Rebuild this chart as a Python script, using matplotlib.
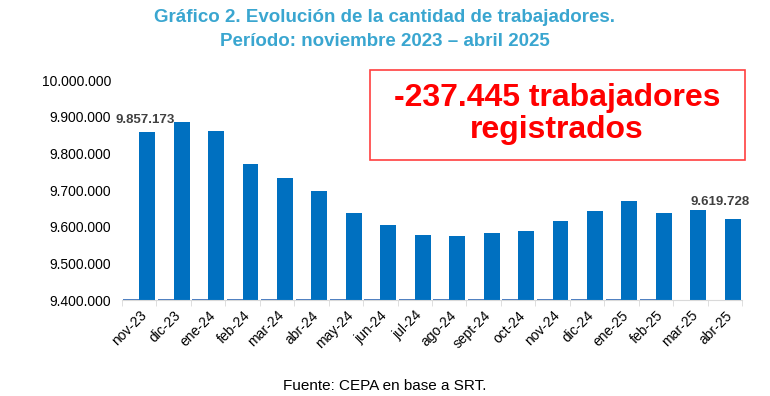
import matplotlib.pyplot as plt
from matplotlib.patches import Rectangle
import numpy as np

plt.rcParams['font.family'] = ['Liberation Sans', 'DejaVu Sans']

meses = ["nov-23", "dic-23", "ene-24", "feb-24", "mar-24", "abr-24", "may-24", "jun-24",
         "jul-24", "ago-24", "sept-24", "oct-24", "nov-24", "dic-24", "ene-25", "feb-25",
         "mar-25", "abr-25"]
trabajadores = [9857173, 9886000, 9860000, 9771000, 9733000, 9697000, 9637000, 9605000,
                9577000, 9575000, 9583000, 9588000, 9615000, 9643000, 9670000, 9637000,
                9646000, 9619728]
# segunda serie casi en la base (se ve como una raya fina)
serie_base = [9403000] * 16 + [np.nan, np.nan]

yticks = [9400000, 9500000, 9600000, 9700000, 9800000, 9900000, 10000000]

def fmt(v):
    return f"{v:,.0f}".replace(",", ".")

fig = plt.figure(figsize=(7.7, 3.96), dpi=100)
ax = fig.add_axes([122 / 770, 1 - 300 / 396, 620 / 770, 220 / 396])

x = np.arange(len(meses))
w = 0.46
base = 9400000
ax.bar(x - w / 2, np.array(serie_base) - base, w, bottom=base, color="#4a7cc0")
ax.bar(x + w / 2, np.array(trabajadores) - base, w, bottom=base, color="#0070c0")

ax.set_xlim(-0.5, len(meses) - 0.5)
ax.set_ylim(9400000, 10000000)
ax.set_yticks(yticks)
ax.set_yticklabels([fmt(v) for v in yticks], fontsize=10)
ax.tick_params(axis="y", length=0, pad=8)

ax.set_xticks(x)
ax.set_xticklabels(meses, rotation=45, ha="right", rotation_mode="anchor", fontsize=10)
ax.set_xticks(np.arange(len(meses) + 1) - 0.5, minor=True)
ax.tick_params(axis="x", which="major", length=0, pad=6)
ax.tick_params(axis="x", which="minor", length=4, color="#d9d9d9")

for s in ["top", "right", "left"]:
    ax.spines[s].set_visible(False)
ax.spines["bottom"].set_color("#d9d9d9")

ax.text(x[0] + w / 2 - 0.05, trabajadores[0] + 35000, fmt(trabajadores[0]),
        ha="center", va="center", fontsize=9.5, fontweight="bold", color="#404040")
ax.text(x[-1] - 0.15, trabajadores[-2] + 20000, fmt(trabajadores[-1]),
        ha="center", va="center", fontsize=9.5, fontweight="bold", color="#404040")

fig.text(0.5, 1 - 18 / 396, "Gráfico 2. Evolución de la cantidad de trabajadores.",
         ha="center", va="center", fontsize=13.5, fontweight="bold", color="#3aa6d0")
fig.text(0.5, 1 - 42 / 396, "Período: noviembre 2023 – abril 2025",
         ha="center", va="center", fontsize=13.5, fontweight="bold", color="#3aa6d0")

fig.patches.append(Rectangle((370 / 770, 1 - 160 / 396), 375 / 770, 90 / 396,
                             transform=fig.transFigure, facecolor="white",
                             edgecolor="#ff4040", linewidth=1.2, zorder=5))
fig.text(557 / 770, 1 - 114 / 396, "-237.445 trabajadores\nregistrados",
         ha="center", va="center", fontsize=23, fontweight="bold", color="#ff0000",
         linespacing=1.1, zorder=6)

fig.text(0.5, 1 - 386 / 396, "Fuente: CEPA en base a SRT.", ha="center", va="center",
         fontsize=11, color="black")

fig.savefig("out.png", dpi=100)
